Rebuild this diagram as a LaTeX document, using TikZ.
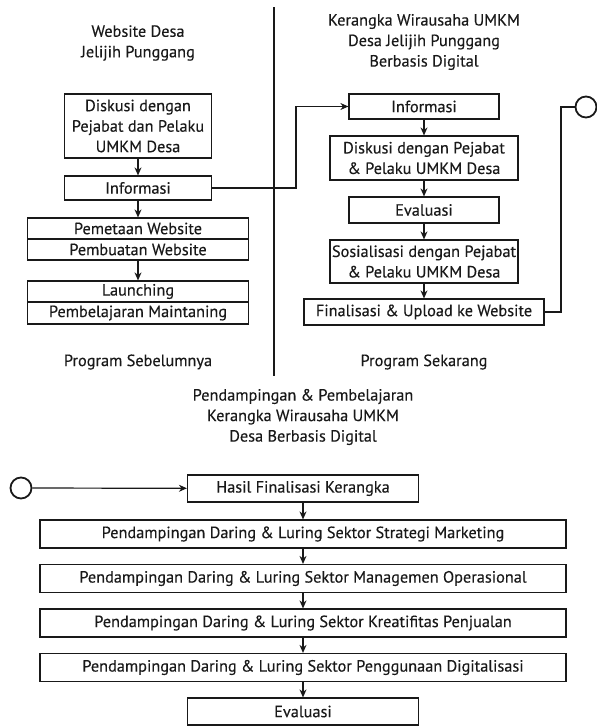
\documentclass[tikz,border=0pt]{standalone}
\usepackage{fontspec}
\setmainfont[FakeBold=0.3]{PT Sans}
\usepackage{xcolor}
\usetikzlibrary{
	arrows.meta,
	calc,
	positioning
}
\definecolor{ink}{gray}{0.1}
\tikzset{
	every picture/.style={>={Stealth[length=8pt, width=7pt]}},
	txt/.style={text=ink, align=center, inner sep=0pt,
		font=\fontsize{16.3pt}{20.5pt}\selectfont},
	box/.style={txt, draw=ink, line width=1.2pt, minimum height=#1},
	box/.default=26pt,
	flow/.style={->, draw=ink, line width=1.2pt},
	endpoint/.style={circle, draw=ink, line width=1.8pt, minimum size=21pt, inner sep=0pt}
}

\begin{document}
\begin{tikzpicture}
	[x=1pt, y=-1pt]

	\useasboundingbox (0,0) rectangle (597,726);

	\newcommand{\ColL}{138}
	\newcommand{\ColR}{424}
	\newcommand{\ColB}{303}

	% divider between old and new program
	\draw[ink, line width=1.2pt] (274,7) -- (274,376);

	% previous program (left)
	\begin{scope}
		\node[txt] (webTitle) at (\ColL, 43) {Website Desa\\Jelijih Punggang};

		\node[box=64pt, minimum width=147pt] (diskusiL) at (\ColL, 126)
			{Diskusi dengan\\Pejabat dan Pelaku\\UMKM Desa};
		\node[box=24pt, minimum width=147pt] (infoL) at (\ColL, 188) {Informasi};

		\node[box=21pt, minimum width=221pt] (pemetaan) at (\ColL, 228.5) {Pemetaan Website};
		\node[box=21pt, minimum width=221pt] (pembuatan) at (\ColL, 249.5) {Pembuatan Website};

		\node[box=21pt, minimum width=221pt] (launching) at (\ColL, 291.5) {Launching};
		\node[box=22pt, minimum width=221pt] (maintaning) at (\ColL, 313) {Pembelajaran Maintaning};

		\node[txt] (progLama) at (\ColL, 362) {Program Sebelumnya};

		\draw[flow] (diskusiL) -- (infoL);
		\draw[flow] (infoL) -- (pemetaan);
		\draw[flow] (pembuatan) -- (launching);
	\end{scope}

	% current program (right)
	\begin{scope}
		\node[txt] (kerangkaTitle) at (\ColR, 42)
			{Kerangka Wirausaha UMKM\\Desa Jelijih Punggang\\Berbasis Digital};

		\node[box=25pt, minimum width=150pt] (infoR) at (\ColR, 106.5) {Informasi};
		\node[box=44pt, minimum width=188pt] (diskusiR) at (\ColR, 158)
			{Diskusi dengan Pejabat\\\& Pelaku UMKM Desa};
		\node[box=26pt, minimum width=150pt] (evaluasiR) at (\ColR, 210) {Evaluasi};
		\node[box=43pt, minimum width=188pt] (sosialisasi) at (\ColR, 261.5)
			{Sosialisasi dengan Pejabat\\\& Pelaku UMKM Desa};
		\node[box=26pt, minimum width=240pt] (finalisasi) at (\ColR, 312)
			{Finalisasi \& Upload ke Website};

		\node[txt] (progBaru) at (\ColR, 362) {Program Sekarang};

		\draw[flow] (infoR) -- (diskusiR);
		\draw[flow] (diskusiR) -- (evaluasiR);
		\draw[flow] (evaluasiR) -- (sosialisasi);
		\draw[flow] (sosialisasi) -- (finalisasi);

		% link from old information box
		\coordinate (jumpL) at (296, 188);
		\draw[flow] (infoL.east) -- (jumpL) |- (infoR.west);

		% outgoing link
		\node[endpoint] (circleR) at (586, 107) {};
		\coordinate (jumpR) at (561, 312);
		\draw[ink, line width=1.2pt] (finalisasi.east) -- (jumpR) |- (circleR.west);
	\end{scope}

	% mentoring program (bottom)
	\begin{scope}
		\node[txt] (pendampinganTitle) at (\ColB, 417)
			{Pendampingan \& Pembelajaran\\Kerangka Wirausaha UMKM\\Desa Berbasis Digital};

		\node[endpoint] (circleL) at (21, 488) {};
		\node[box=27pt, minimum width=231pt] (hasil) at (\ColB, 488.5) {Hasil Finalisasi Kerangka};
		\draw[flow] (circleL) -- (hasil);

		\foreach \name/\y/\sektor [remember=\name as \prev (initially hasil)] in
			{strategi/534/Strategi Marketing,
			 managemen/578.5/Managemen Operasional,
			 kreatif/623/Kreatifitas Penjualan,
			 penggunaan/667.5/Penggunaan Digitalisasi} {
			\node[box=28pt, minimum width=526pt] (\name) at (\ColB, \y)
				{Pendampingan Daring \& Luring Sektor \sektor};
			\draw[flow] (\prev) -- (\name);
		}

		\node[box=27pt, minimum width=231pt] (evaluasiB) at (\ColB, 711.5) {Evaluasi};
		\draw[flow] (penggunaan) -- (evaluasiB);
	\end{scope}

\end{tikzpicture}
\end{document}
